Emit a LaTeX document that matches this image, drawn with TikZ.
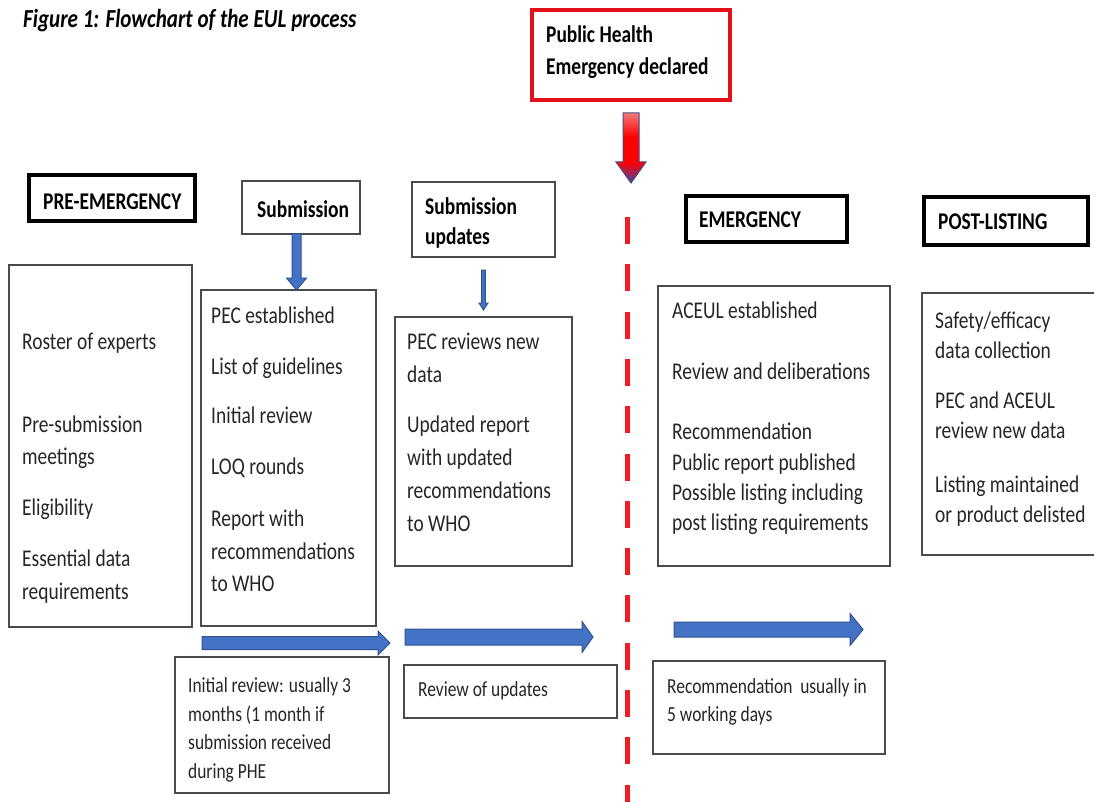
\documentclass[tikz,border=0pt]{standalone}
\usepackage{fontspec}
\setmainfont{Carlito}[FakeStretch=0.81]
\usetikzlibrary{calc,arrows.meta}
\definecolor{bfill}{HTML}{4472C4}
\definecolor{bline}{HTML}{2F528F}
\definecolor{phered}{HTML}{E3101A}
\definecolor{dashred}{HTML}{EE1C25}
\definecolor{boxgray}{HTML}{4A4A4A}
\definecolor{arrtip}{HTML}{5E3C8C}
\definecolor{arrtop}{HTML}{F27A7A}
\definecolor{arrline}{HTML}{4B4A86}
\pgfdeclareverticalshading{redarr}{100bp}{color(0bp)=(arrtip); color(27bp)=(arrtip); color(40bp)=(red); color(58bp)=(red); color(75bp)=(arrtop); color(100bp)=(arrtop)}
\newcommand\vblk[6][barrow]{%
  \path[#1] let \p1=(#2), \p2=(#3) in
   (\x1-#4pt,\y1) -- (\x1-#4pt,\y2+#6pt) -- (\x1-#5pt,\y2+#6pt) -- (\x1,\y2)
   -- (\x1+#5pt,\y2+#6pt) -- (\x1+#4pt,\y2+#6pt) -- (\x1+#4pt,\y1) -- cycle;}
\newcommand\hblk[6][barrow]{%
  \path[#1] let \p1=(#2), \p2=(#3) in
   (\x1,\y1+#4pt) -- (\x2-#6pt,\y1+#4pt) -- (\x2-#6pt,\y1+#5pt) -- (\x2,\y1)
   -- (\x2-#6pt,\y1-#5pt) -- (\x2-#6pt,\y1-#4pt) -- (\x1,\y1-#4pt) -- cycle;}
\tikzset{
  thinbox/.style={draw=boxgray, line width=1.3pt, inner sep=0pt, outer sep=0pt, anchor=north west},
  thickbox/.style={draw=black, line width=4pt, inner sep=0pt, outer sep=0pt, anchor=north west},
  redbox/.style={draw=phered, line width=3.5pt, inner sep=0pt, outer sep=0pt, anchor=north west},
  txt/.style={anchor=base west, inner sep=0pt, text=black!85, font=\fontsize{24}{24}\selectfont},
  smalltxt/.style={txt, font=\fontsize{21.5}{21.5}\selectfont},
  hdr/.style={txt, text=black, font=\bfseries\fontsize{24}{24}\selectfont},
  barrow/.style={fill=bfill, draw=bline, line width=1pt},
  redarrow/.style={shading=redarr, draw=arrline, line width=1pt},
}
\begin{document}
\begin{tikzpicture}[x=1pt,y=-1pt]
\useasboundingbox[fill=white] (0,0) rectangle (1094,802);
% title
\node[txt, text=black, font=\bfseries\itshape\fontsize{26}{26}\selectfont] (title) at (23,28) {Figure 1: Flowchart of the EUL process};
% PHE box
\node[redbox, minimum width=198pt, minimum height=90pt] (phe) at (532,10) {};
\node[hdr] (phe1) at (546,43) {Public Health};
\node[hdr] (phe2) at (546,75) {Emergency declared};
% headers
\node[thickbox, minimum width=166pt, minimum height=46pt] (pre) at (29,175) {};
\node[hdr] (preT) at (43,210) {PRE-EMERGENCY};
\node[thinbox, minimum width=118pt, minimum height=53pt] (sub) at (242,181) {};
\node[hdr] (subT) at (257,218) {Submission};
\node[thinbox, minimum width=143pt, minimum height=75pt] (upd) at (412,182) {};
\node[hdr] (updT1) at (425,215) {Submission};
\node[hdr] (updT2) at (425,245) {updates};
\node[thickbox, minimum width=161pt, minimum height=46pt] (emg) at (686,196) {};
\node[hdr] (emgT) at (699,228) {EMERGENCY};
\node[thickbox, minimum width=164pt, minimum height=48pt] (post) at (924,197) {};
\node[hdr] (postT) at (938,230) {POST-LISTING};
% content boxes
\node[thinbox, minimum width=183pt, minimum height=362pt] (prec) at (9,265) {};
\node[txt] (p1) at (22,349) {Roster of experts};
\node[txt] (p2) at (22,432) {Pre-submission};
\node[txt] (p3) at (22,464) {meetings};
\node[txt] (p4) at (22,515) {Eligibility};
\node[txt] (p5) at (22,566) {Essential data};
\node[txt] (p6) at (22,599) {requirements};
\node[thinbox, minimum width=175pt, minimum height=336pt] (subc) at (201,290) {};
\node[txt] (s1) at (211,323) {PEC established};
\node[txt] (s2) at (211,374) {List of guidelines};
\node[txt] (s3) at (211,423) {Initial review};
\node[txt] (s4) at (211,474) {LOQ rounds};
\node[txt] (s5) at (211,526) {Report with};
\node[txt] (s6) at (211,559) {recommendations};
\node[txt] (s7) at (211,591) {to WHO};
\node[thinbox, minimum width=177pt, minimum height=249pt] (updc) at (395,317) {};
\node[txt] (u1) at (407,349) {PEC reviews new};
\node[txt] (u2) at (407,382) {data};
\node[txt] (u3) at (407,432) {Updated report};
\node[txt] (u4) at (407,465) {with updated};
\node[txt] (u5) at (407,498) {recommendations};
\node[txt] (u6) at (407,531) {to WHO};
\node[thinbox, minimum width=232pt, minimum height=280pt] (emgc) at (658,286) {};
\node[txt] (e1) at (672,318) {ACEUL established};
\node[txt] (e2) at (672,379) {Review and deliberations};
\node[txt] (e3) at (672,439) {Recommendation};
\node[txt] (e4) at (672,470) {Public report published};
\node[txt] (e5) at (672,500) {Possible listing including};
\node[txt] (e6) at (672,530) {post listing requirements};
\node[thinbox, minimum width=180pt, minimum height=262pt] (postc) at (922,293) {};
\node[txt] (q1) at (935,328) {Safety/efficacy};
\node[txt] (q2) at (935,358) {data collection};
\node[txt] (q3) at (935,408) {PEC and ACEUL};
\node[txt] (q4) at (935,438) {review new data};
\node[txt] (q5) at (935,492) {Listing maintained};
\node[txt] (q6) at (935,522) {or product delisted};
% bottom boxes
\node[thinbox, minimum width=214pt, minimum height=136pt] (botA) at (175,657) {};
\node[smalltxt] (a1) at (188,692) {Initial review: usually 3};
\node[smalltxt] (a2) at (188,721) {months (1 month if};
\node[smalltxt] (a3) at (188,749) {submission received};
\node[smalltxt] (a4) at (188,778) {during PHE};
\node[thinbox, minimum width=213pt, minimum height=53pt] (botB) at (404,665) {};
\node[smalltxt] (b1) at (418,696) {Review of updates};
\node[thinbox, minimum width=232pt, minimum height=93pt] (botC) at (653,661) {};
\node[smalltxt] (c1) at (667,693) {Recommendation\ \ usually in};
\node[smalltxt] (c2) at (667,721) {5 working days};
% vertical arrows
\vblk{$(sub.south)+(-4.5,0)$}{subc.north}{4.5}{10}{12}
\vblk{$(upd.south)+(0,13)$}{$(updc.north)+(0,-7)$}{1.8}{4.5}{7}
\vblk[redarrow]{$(phe.south)+(0,13)$}{$(phe.south)+(0,83)$}{8}{15}{21}
% dashed line
\coordinate (dl1) at (627,217);
\coordinate (dl2) at (627,802);
\draw[dashred, line width=5pt, dash pattern=on 27pt off 20.3pt] (dl1) -- (dl2);
% horizontal arrows
\coordinate (h1s) at (202,643); \coordinate (h1e) at (390,643);
\coordinate (h2s) at (405,637); \coordinate (h2e) at (593,637);
\coordinate (h3s) at (674,629.5); \coordinate (h3e) at (863,629.5);
\hblk{h1s}{h1e}{6.5}{12}{12}
\hblk{h2s}{h2e}{8}{15.5}{11}
\hblk{h3s}{h3e}{7.5}{16}{13}
\end{tikzpicture}
\end{document}
